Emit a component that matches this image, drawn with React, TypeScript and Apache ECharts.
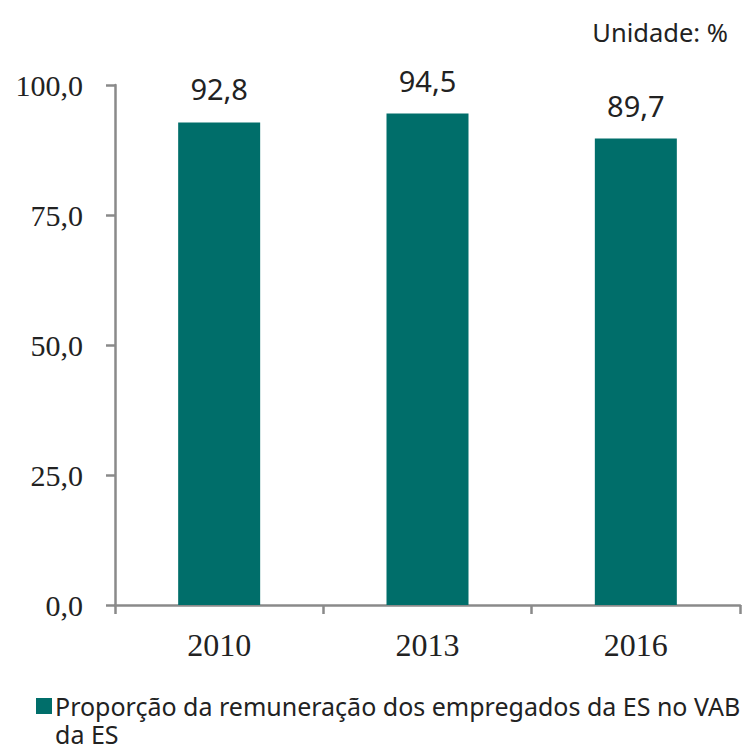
import React, { useEffect, useRef } from "react";
import * as echarts from "echarts";

const categories = ["2010", "2013", "2016"];
const values = [92.8, 94.5, 89.7];
const seriesName = "Proporção da remuneração dos empregados da ES no VAB\nda ES";
const unitText = "Unidade: %";

const fmt = (v: number) => v.toFixed(1).replace(".", ",");

export default function App() {
  const ref = useRef<HTMLDivElement>(null);
  useEffect(() => {
    if (!ref.current) return;
    const chart = echarts.init(ref.current, undefined, { renderer: "svg" });
    chart.setOption({
      animation: false,
      backgroundColor: "#ffffff",
      title: {
        text: unitText,
        right: 19,
        top: 14,
        textStyle: {
          fontFamily: "Noto Sans",
          fontSize: 25.5,
          fontWeight: "normal",
          color: "#222",
        },
      },
      legend: {
        left: 31,
        top: 687,
        itemWidth: 16,
        itemHeight: 44,
        itemGap: 0,
        icon: "path://M0,0L16,0L16,16L0,16Z M0,44L0.01,44L0.01,43.99Z",
        textStyle: {
          fontFamily: "Noto Sans",
          fontSize: 25,
          color: "#222",
          lineHeight: 28,
          padding: [0, 0, 0, -2],
        },
        data: [seriesName],
      },
      grid: { left: 115, right: 12, top: 85, bottom: 144, containLabel: false },
      xAxis: {
        type: "category",
        data: categories,
        boundaryGap: true,
        axisLine: { show: true, lineStyle: { color: "#8a8a8a", width: 2.5 } },
        axisTick: { show: true, length: 9, alignWithLabel: false, lineStyle: { color: "#8a8a8a", width: 2.5 } },
        axisLabel: {
          margin: 24,
          fontFamily: "Liberation Serif",
          fontSize: 32,
          color: "#222",
        },
      },
      yAxis: {
        type: "value",
        min: 0,
        max: 100,
        interval: 25,
        splitLine: { show: false },
        axisLine: { show: true, lineStyle: { color: "#8a8a8a", width: 2.5 } },
        axisTick: { show: true, length: 9, lineStyle: { color: "#8a8a8a", width: 2.5 } },
        axisLabel: {
          margin: 32,
          fontFamily: "Liberation Serif",
          fontSize: 30,
          color: "#222",
          formatter: (v: number) => fmt(v),
        },
      },
      series: [
        {
          type: "bar",
          name: seriesName,
          data: values,
          barWidth: 82,
          itemStyle: { color: "#006e6a" },
          label: {
            show: true,
            position: "top",
            distance: 19,
            fontFamily: "Noto Sans",
            fontSize: 29,
            color: "#222",
            formatter: (p: any) => fmt(p.value),
          },
        },
      ],
    });
    return () => chart.dispose();
  }, []);
  return <div ref={ref} style={{ width: 752, height: 749, position: "absolute", left: 0, top: 0 }} />;
}
